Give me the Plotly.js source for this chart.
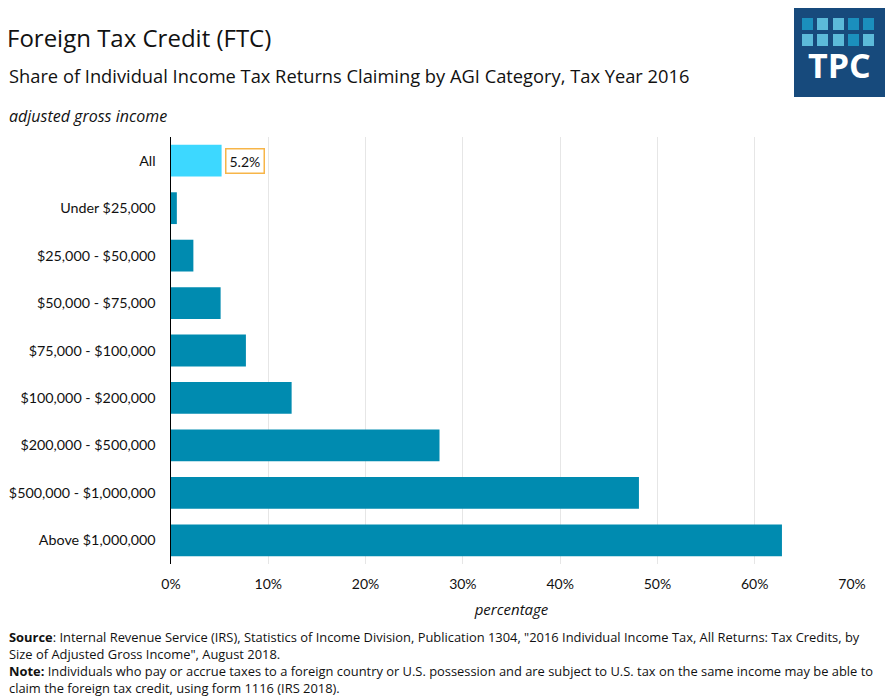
<!DOCTYPE html>
<html>
<head>
<meta charset="utf-8">
<script src="https://cdn.plot.ly/plotly-3.0.1.min.js"></script>
<style>html,body{margin:0;padding:0;background:#fff;}#chart{width:896px;height:700px;}</style>
</head>
<body>
<div id="chart"></div>
<script>
// ---- data ----
const categories = ["All", "Under $25,000", "$25,000 - $50,000", "$50,000 - $75,000", "$75,000 - $100,000",
  "$100,000 - $200,000", "$200,000 - $500,000", "$500,000 - $1,000,000", "Above $1,000,000"];
const shares = [5.2, 0.6, 2.3, 5.1, 7.7, 12.4, 27.6, 48.1, 62.8];
const highlightLabel = "5.2%";
const xTickVals = [0, 10, 20, 30, 40, 50, 60, 70];
const xTickText = ["0%", "10%", "20%", "30%", "40%", "50%", "60%", "70%"];

// ---- layout helpers ----
const W = 896, H = 700;
const L = 171, R = 852, T = 137, B = 564;
const px = x => (x - L) / (R - L);
const py = y => (B - y) / (B - T);
const FONT = "Lato, 'Open Sans', sans-serif";
const WIDE = "'Open Sans', 'Noto Sans', sans-serif";

const colors = categories.map((c, i) => i === 0 ? "#3dd8ff" : "#008bb0");

const trace = {
  type: "bar", orientation: "h",
  y: categories, x: shares,
  marker: {color: colors},
  width: 0.67,
  hoverinfo: "x+y"
};

const shapes = [];
const annotations = [];

// logo
shapes.push({type: "rect", xref: "paper", yref: "paper", x0: px(794), x1: px(885), y0: py(97), y1: py(8),
  fillcolor: "#174a7c", line: {width: 0}, layer: "above"});
const sqCols = [[802, 813], [817, 828], [833, 844], [848, 859], [863, 874]];
const sqRows = [[18, 30], [34, 46]];
const sqShade = [["#1b8fbd", "#5cbad9", "#5cbad9", "#1b8fbd", "#1b8fbd"],
                 ["#5cbad9", "#5cbad9", "#5cbad9", "#1b8fbd", "#5cbad9"]];
sqRows.forEach((r, ri) => sqCols.forEach((c, ci) => {
  shapes.push({type: "rect", xref: "paper", yref: "paper", x0: px(c[0]), x1: px(c[1]), y0: py(r[1]), y1: py(r[0]),
    fillcolor: sqShade[ri][ci], line: {width: 0}, layer: "above"});
}));
annotations.push({xref: "paper", yref: "paper", x: px(839), y: py(65), xanchor: "center", yanchor: "middle",
  text: "<b>TPC</b>", showarrow: false, font: {family: WIDE, size: 34, color: "#ffffff"}});

// subtitle
annotations.push({xref: "paper", yref: "paper", x: px(7), y: py(75), xanchor: "left", yanchor: "middle",
  text: "Share of Individual Income Tax Returns Claiming by AGI Category, Tax Year 2016", showarrow: false,
  font: {family: WIDE, size: 18.3, color: "#111"}});
// y axis title
annotations.push({xref: "paper", yref: "paper", x: px(7), y: py(116), xanchor: "left", yanchor: "middle",
  text: "<i>adjusted gross income</i>", showarrow: false, font: {family: WIDE, size: 16, color: "#111"}});
// highlight label
annotations.push({x: shares[0], y: categories[0], xref: "x", yref: "y", xanchor: "left", yanchor: "middle",
  xshift: 3, text: highlightLabel, showarrow: false, bgcolor: "#fff", bordercolor: "#f7b548", borderwidth: 1.5,
  borderpad: 3, font: {family: FONT, size: 14, color: "#111"}});
// source / note
const notes = [
  "<b>Source</b>: Internal Revenue Service (IRS), Statistics of Income Division, Publication 1304, \"2016 Individual Income Tax, All Returns: Tax Credits, by",
  "Size of Adjusted Gross Income\", August 2018.",
  "<b>Note:</b> Individuals who pay or accrue taxes to a foreign country or U.S. possession and are subject to U.S. tax on the same income may be able to",
  "claim the foreign tax credit, using form 1116 (IRS 2018)."
];
notes.forEach((t, i) => annotations.push({xref: "paper", yref: "paper", x: px(7), y: py(637 + i * 17), xanchor: "left",
  yanchor: "middle", text: t, showarrow: false, font: {family: WIDE, size: 12.9, color: "#111"}}));

const layout = {
  width: W, height: H,
  margin: {l: L, r: W - R, t: T, b: H - B, pad: 0},
  paper_bgcolor: "#fff", plot_bgcolor: "#fff",
  font: {family: FONT, size: 14, color: "#111"},
  showlegend: false,
  title: {text: "Foreign Tax Credit (FTC)", x: 7 / W, xanchor: "left", xref: "container",
    y: 1 - 39 / H, yanchor: "middle", yref: "container", font: {family: WIDE, size: 24, color: "#111"}},
  xaxis: {range: [0, 70], tickvals: xTickVals, ticktext: xTickText, showgrid: true, gridcolor: "#e6e6e6",
    gridwidth: 1, zeroline: false, showline: false, ticks: "outside", ticklen: 7, tickcolor: "rgba(0,0,0,0)",
    tickfont: {family: FONT, size: 14, color: "#111"}, fixedrange: true,
    title: {text: "<i>percentage</i>", font: {family: WIDE, size: 15, color: "#111"}, standoff: 13}},
  yaxis: {autorange: "reversed", showline: true, linecolor: "#000", linewidth: 1.5, showgrid: false,
    ticks: "outside", ticklen: 11, tickcolor: "rgba(0,0,0,0)", tickfont: {family: FONT, size: 14.3, color: "#111"},
    fixedrange: true},
  bargap: 0.33,
  shapes: shapes,
  annotations: annotations
};

Plotly.newPlot("chart", [trace], layout, {displayModeBar: false, staticPlot: true});
</script>
</body>
</html>
